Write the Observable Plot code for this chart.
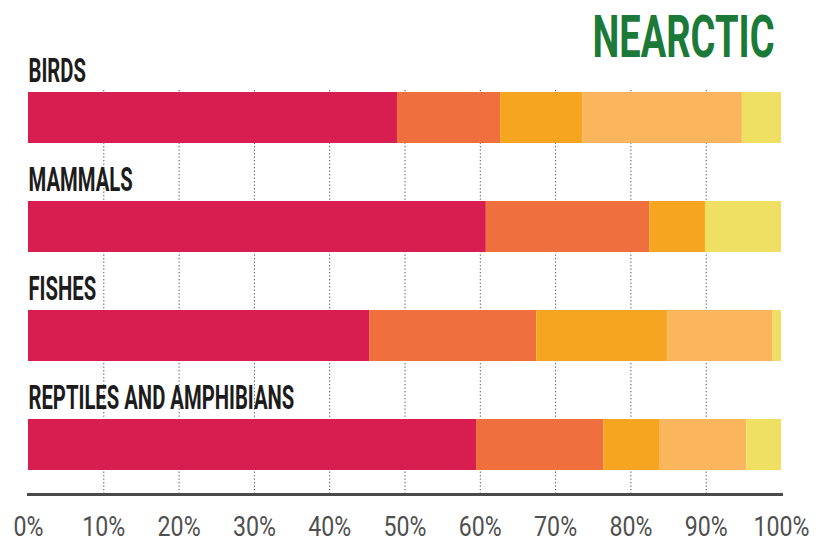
<!DOCTYPE html>
<html><head><meta charset="utf-8">
<script src="https://cdn.jsdelivr.net/npm/d3@7"></script>
<script src="https://cdn.jsdelivr.net/npm/@observablehq/plot@0.6"></script>
<style>
body{margin:0;background:#fff;}
#wrap{position:relative;width:816px;height:542px;}
</style></head><body>
<div id="wrap"></div>
<script>
const titleText = ["NEARCTIC"];
const taxa = ["BIRDS", "MAMMALS", "FISHES", "REPTILES AND AMPHIBIANS"];
const segments = ["Segment 1", "Segment 2", "Segment 3", "Segment 4", "Segment 5"];
const segmentColors = ["#d81d50", "#f06f3f", "#f5a520", "#fbb65d", "#efdf63"];
const birds = [49.0, 13.7, 10.9, 21.2, 5.2];
const mammals = [60.8, 21.7, 7.4, 0.0, 10.1];
const fishes = [45.3, 22.2, 17.4, 14.0, 1.1];
const reptiles = [59.5, 16.9, 7.4, 11.6, 4.6];
const xTicks = [0, 10, 20, 30, 40, 50, 60, 70, 80, 90, 100];
const gridTicks = [10, 20, 30, 40, 50, 60, 70, 80, 90];

const series = [birds, mammals, fishes, reptiles];
const rows = [];
series.forEach((vals, i) => vals.forEach((v, j) => rows.push({taxon: taxa[i], segment: segments[j], value: v})));

const chart = Plot.plot({
  width: 816,
  height: 542,
  marginLeft: 28,
  marginRight: 35,
  marginTop: 90,
  marginBottom: 48,
  x: {domain: [0, 100], axis: null, label: null},
  y: {domain: taxa, axis: null, label: null, paddingInner: 0.536, paddingOuter: 0, insetBottom: 23},
  color: {domain: segments, range: segmentColors},
  marks: [
    Plot.ruleX(gridTicks, {stroke: "#555", strokeWidth: 1, strokeDasharray: "1.3,2.2"}),
    Plot.barX(rows, {x: "value", y: "taxon", fill: "segment"}),
    Plot.text(taxa, {x: 0, y: d => d, text: d => d, textAnchor: "start", lineAnchor: "bottom", dy: -36.5,
      fontSize: 34, fontWeight: 700, fill: "#1c1c1c", fontFamily: "Roboto, sans-serif", className: "catlabel"}),
    Plot.text(titleText, {frameAnchor: "top-right", text: d => d, textAnchor: "end", lineAnchor: "bottom",
      dx: -7, dy: -34, fontSize: 60, fontWeight: 700, fill: "#1b7a37", fontFamily: "Roboto, sans-serif", className: "titlelabel"}),
    Plot.frame({anchor: "bottom", stroke: "#4a4a4a", strokeWidth: 3}),
    Plot.axisX(xTicks, {anchor: "bottom", label: null, tickSize: 0, tickPadding: 22, tickFormat: d => d + "%",
      fontSize: 28, fill: "#505050", fontFamily: "Roboto, sans-serif", className: "ticklabel"})
  ]
});
chart.style.fontFamily = "Roboto, sans-serif";
chart.style.overflow = "visible";
document.getElementById("wrap").appendChild(chart);

function squeeze(el, s) {
  const t = el.getAttribute("transform");
  if (t) el.setAttribute("transform", t + ` scale(${s},1)`);
  else {
    const x = +el.getAttribute("x") || 0;
    el.setAttribute("transform", `translate(${x},0) scale(${s},1) translate(${-x},0)`);
  }
}
const cats = chart.querySelectorAll(".catlabel text");
let longest = 0;
cats.forEach(el => longest = Math.max(longest, el.getComputedTextLength()));
const sCat = 266 / longest;
cats.forEach(el => squeeze(el, sCat));

const ticks = chart.querySelectorAll(".ticklabel text");
let w100 = 56;
ticks.forEach(el => { if (el.textContent === "100%") w100 = el.getComputedTextLength(); });
const sTick = 56 / w100;
ticks.forEach(el => squeeze(el, sTick));

chart.querySelectorAll(".titlelabel text").forEach(el => squeeze(el, 182 / el.getComputedTextLength()));
</script>
</body></html>
